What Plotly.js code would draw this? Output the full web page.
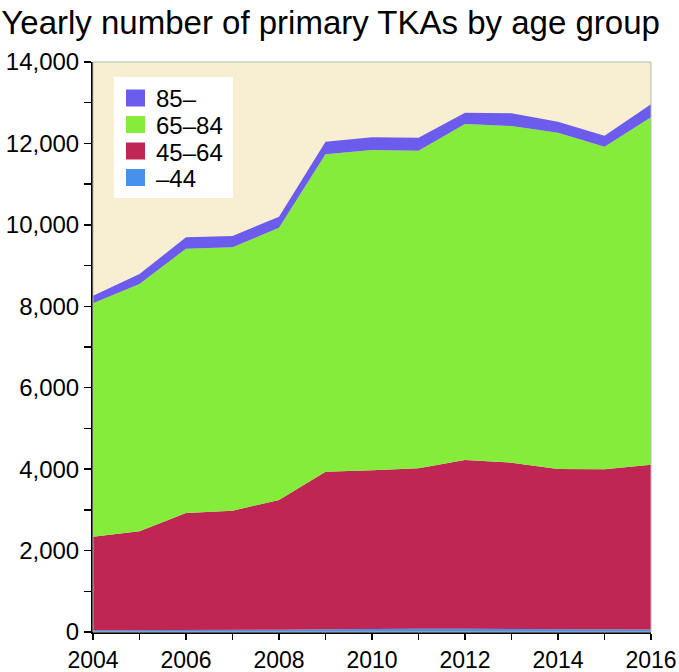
<!DOCTYPE html>
<html>
<head>
<meta charset="utf-8">
<script src="https://cdn.plot.ly/plotly-3.0.1.min.js"></script>
<style>html,body{margin:0;padding:0;background:#fff;}#chart{width:679px;height:672px;}</style>
</head>
<body>
<div id="chart"></div>
<script>
const years = [2004,2005,2006,2007,2008,2009,2010,2011,2012,2013,2014,2015,2016];
const ageUnder45 = [40,40,45,50,55,70,80,80,80,75,65,70,60];
const age45to64 = [2300,2433,2878,2930,3187,3868,3890,3940,4145,4084,3938,3926,4050];
const age65to84 = [5732,6074,6492,6468,6689,7795,7869,7802,8252,8269,8261,7924,8531];
const age85plus = [187,246,279,278,270,310,311,320,278,311,270,270,319];
const seriesNames = ['–44','45–64','65–84','85–'];
const seriesColors = ['#4691eb','#c02654','#86ec3c','#6c5cee'];
const yTickVals = [0,1000,2000,3000,4000,5000,6000,7000,8000,9000,10000,11000,12000,13000,14000];
const yTickText = ['0','','2,000','','4,000','','6,000','','8,000','','10,000','','12,000','','14,000'];
const xTickVals = years;
const xTickText = ['2004','','2006','','2008','','2010','','2012','','2014','','2016'];

const seriesValues = [ageUnder45, age45to64, age65to84, age85plus];
const traces = seriesValues.map((vals, i) => ({
  x: years, y: vals, name: seriesNames[i], type: 'scatter', mode: 'lines',
  stackgroup: 'one', line: {width: 0, color: seriesColors[i]},
  fillcolor: seriesColors[i], hoverinfo: 'x+y+name'
}));

// plot area geometry in pixels (for the custom legend box)
const W = 679, H = 672, ML = 93, MR = 28, MT = 62, MB = 40;
const PW = W - ML - MR, PH = H - MT - MB;
const px = v => (v - ML) / PW;
const py = v => (H - MB - v) / PH;

const shapes = [
  {type: 'rect', xref: 'paper', yref: 'paper', x0: 0, x1: 1, y0: 0, y1: 1,
   line: {color: '#b8b8b0', width: 1}, layer: 'above'},
  {type: 'rect', xref: 'paper', yref: 'paper', x0: px(114), x1: px(233), y0: py(198), y1: py(77),
   fillcolor: '#ffffff', line: {width: 0}, layer: 'above'}
];
const annotations = [];
// legend rows, top to bottom: 85–, 65–84, 45–64, –44
const rowCenters = [98, 124.5, 151, 177.5];
for (let r = 0; r < 4; r++) {
  const i = 3 - r;
  const cy = rowCenters[r];
  shapes.push({type: 'rect', xref: 'paper', yref: 'paper', x0: px(126), x1: px(145), y0: py(cy + 8.5), y1: py(cy - 8.5),
               fillcolor: seriesColors[i], line: {width: 0}, layer: 'above'});
  annotations.push({xref: 'paper', yref: 'paper', x: px(154), y: py(cy + 1), xanchor: 'left', yanchor: 'middle',
                    text: seriesNames[i], showarrow: false, font: {size: 24, color: '#000'}});
}

const layout = {
  width: W, height: H,
  margin: {l: ML, r: MR, t: MT, b: MB},
  paper_bgcolor: '#ffffff',
  plot_bgcolor: '#f8efd2',
  font: {family: 'Liberation Sans, Arial, sans-serif', color: '#000'},
  title: {text: 'Yearly number of primary TKAs by age group', x: 0.002, xanchor: 'left', y: 0.967, yanchor: 'middle',
          font: {size: 33, color: '#000'}},
  showlegend: false,
  xaxis: {range: [2004, 2016], tickvals: xTickVals, ticktext: xTickText, ticks: 'outside', ticklen: 6,
          tickwidth: 1.5, tickcolor: '#000', showline: true, linecolor: '#000', linewidth: 2,
          showgrid: false, zeroline: false, tickfont: {size: 23}, fixedrange: true},
  yaxis: {range: [0, 14000], tickvals: yTickVals, ticktext: yTickText, ticks: 'outside', ticklen: 7,
          tickwidth: 1.5, tickcolor: '#000', showline: true, linecolor: '#000', linewidth: 2,
          showgrid: false, zeroline: false, tickfont: {size: 24}, fixedrange: true},
  shapes: shapes,
  annotations: annotations
};
Plotly.newPlot('chart', traces, layout, {displayModeBar: false, staticPlot: true});
</script>
</body>
</html>
